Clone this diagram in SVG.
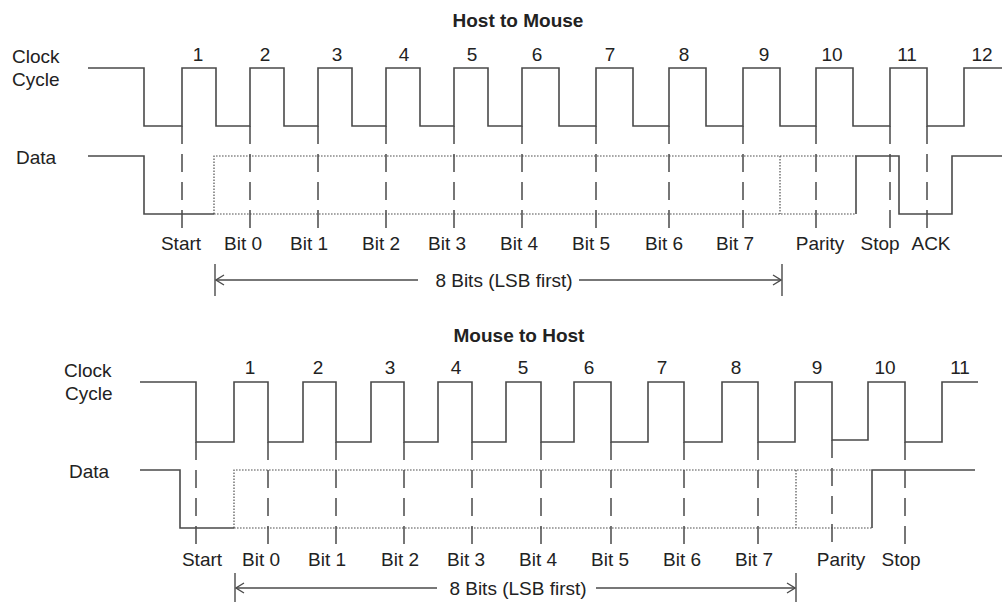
<svg xmlns="http://www.w3.org/2000/svg" width="1002" height="602" viewBox="0 0 1002 602">
<style>
  .bg { fill: #ffffff; }
  .wave { fill: none; stroke: #4a4a4a; stroke-width: 1.6; }
  .dot { fill: none; stroke: #505050; stroke-width: 1.2; stroke-dasharray: 1.6 1.4; }
  .dash { fill: none; stroke: #4a4a4a; stroke-width: 1.5; stroke-dasharray: 18 10; }
  .dim { fill: none; stroke: #4a4a4a; stroke-width: 1.4; }
  text { font-family: "Liberation Sans", Arial, sans-serif; font-size: 19px; fill: #222222; }
  .title { font-weight: bold; text-anchor: middle; }
  .c { text-anchor: middle; }
</style>
<defs>
  <marker id="chev" markerWidth="10" markerHeight="12" refX="9" refY="6" orient="auto-start-reverse" markerUnits="userSpaceOnUse">
    <path d="M1,1 L9,6 L1,11" fill="none" stroke="#4a4a4a" stroke-width="1.3"/>
  </marker>
</defs>
<rect class="bg" x="0" y="0" width="1002" height="602"/>

<g id="host-to-mouse">
  <text class="title" x="518" y="27">Host to Mouse</text>
  <g id="htm-labels">
    <text x="12" y="63">Clock</text>
    <text x="12" y="86">Cycle</text>
    <text x="16" y="164">Data</text>
  </g>
  <g id="htm-cycle-numbers">
    <text class="c" x="198" y="61">1</text>
    <text class="c" x="265" y="61">2</text>
    <text class="c" x="337" y="61">3</text>
    <text class="c" x="404" y="61">4</text>
    <text class="c" x="472" y="61">5</text>
    <text class="c" x="537" y="61">6</text>
    <text class="c" x="610" y="61">7</text>
    <text class="c" x="684" y="61">8</text>
    <text class="c" x="764" y="61">9</text>
    <text class="c" x="832" y="61">10</text>
    <text class="c" x="907" y="61">11</text>
    <text class="c" x="982" y="61">12</text>
  </g>
  <g id="htm-clock">
    <path class="wave" d="M88,68 H144 V126 H182 V68 H216 V126 H250 V68 H284 V126 H318 V68 H352 V126 H386 V68 H420 V126 H454 V68 H488 V126 H522 V68 H559 V126 H596 V68 H633 V126 H669 V68 H706 V126 H743 V68 H780 V126 H816 V68 H853 V126 H890 V68 H927 V126 H964 V68 H1002"/>
  </g>
  <g id="htm-data">
    <path class="dot" d="M214,214 V156 H856 M214,214 H856 M780,156 V214"/>
    <path class="wave" d="M88,156 H144 V214 H214 M856,214 V156 H899 V214 H952 V156 H1002"/>
  </g>
  <g id="htm-markers">
    <path class="dash" d="M182,126 V230 M250,126 V230 M318,126 V230 M386,126 V230 M454,126 V230 M522,126 V230 M596,126 V230 M669,126 V230 M743,126 V230 M816,126 V230 M890,126 V230 M927,126 V230"/>
  </g>
  <g id="htm-bit-labels">
    <text class="c" x="181" y="250">Start</text>
    <text class="c" x="243" y="250">Bit 0</text>
    <text class="c" x="309" y="250">Bit 1</text>
    <text class="c" x="381" y="250">Bit 2</text>
    <text class="c" x="447" y="250">Bit 3</text>
    <text class="c" x="519" y="250">Bit 4</text>
    <text class="c" x="591" y="250">Bit 5</text>
    <text class="c" x="664" y="250">Bit 6</text>
    <text class="c" x="735" y="250">Bit 7</text>
    <text class="c" x="820" y="250">Parity</text>
    <text class="c" x="880" y="250">Stop</text>
    <text class="c" x="931" y="250">ACK</text>
  </g>
  <g id="htm-span">
    <path class="dim" d="M215,264 V296 M782,264 V296"/>
    <path class="dim" d="M216,280 H418" marker-start="url(#chev)"/>
    <path class="dim" d="M579,280 H781" marker-end="url(#chev)"/>
    <text class="c" x="504" y="287">8 Bits (LSB first)</text>
  </g>
</g>

<g id="mouse-to-host">
  <text class="title" x="519" y="342">Mouse to Host</text>
  <g id="mth-labels">
    <text x="64" y="377">Clock</text>
    <text x="65" y="400">Cycle</text>
    <text x="69" y="478">Data</text>
  </g>
  <g id="mth-cycle-numbers">
    <text class="c" x="250" y="374">1</text>
    <text class="c" x="318" y="374">2</text>
    <text class="c" x="390" y="374">3</text>
    <text class="c" x="456" y="374">4</text>
    <text class="c" x="523" y="374">5</text>
    <text class="c" x="589" y="374">6</text>
    <text class="c" x="662" y="374">7</text>
    <text class="c" x="736" y="374">8</text>
    <text class="c" x="817" y="374">9</text>
    <text class="c" x="885" y="374">10</text>
    <text class="c" x="960" y="374">11</text>
  </g>
  <g id="mth-clock">
    <path class="wave" d="M140,382 H196 V442 H234 V382 H268 V442 H303 V382 H336 V442 H371 V382 H404 V442 H438 V382 H472 V442 H506 V382 H541 V442 H574 V382 H611 V442 H648 V382 H684 V442 H722 V382 H758 V442 H795 V382 H832 V440 H868 V382 H905 V442 H942 V382 H978"/>
  </g>
  <g id="mth-data">
    <path class="dot" d="M234,528 V470 H872 M234,528 H872 M796,470 V528"/>
    <path class="wave" d="M140,470 H180 V528 H234 M872,528 V470 H975"/>
  </g>
  <g id="mth-markers">
    <path class="dash" d="M196,442 V544 M268,442 V544 M336,442 V544 M404,442 V544 M472,442 V544 M541,442 V544 M611,442 V544 M684,442 V544 M758,442 V544 M832,440 V544 M905,442 V544"/>
  </g>
  <g id="mth-bit-labels">
    <text class="c" x="202" y="566">Start</text>
    <text class="c" x="261" y="566">Bit 0</text>
    <text class="c" x="327" y="566">Bit 1</text>
    <text class="c" x="400" y="566">Bit 2</text>
    <text class="c" x="466" y="566">Bit 3</text>
    <text class="c" x="538" y="566">Bit 4</text>
    <text class="c" x="610" y="566">Bit 5</text>
    <text class="c" x="682" y="566">Bit 6</text>
    <text class="c" x="754" y="566">Bit 7</text>
    <text class="c" x="841" y="566">Parity</text>
    <text class="c" x="901" y="566">Stop</text>
  </g>
  <g id="mth-span">
    <path class="dim" d="M235,573 V602 M796,573 V602"/>
    <path class="dim" d="M236,588 H437" marker-start="url(#chev)"/>
    <path class="dim" d="M596,588 H795" marker-end="url(#chev)"/>
    <text class="c" x="518" y="595">8 Bits (LSB first)</text>
  </g>
</g>
</svg>
